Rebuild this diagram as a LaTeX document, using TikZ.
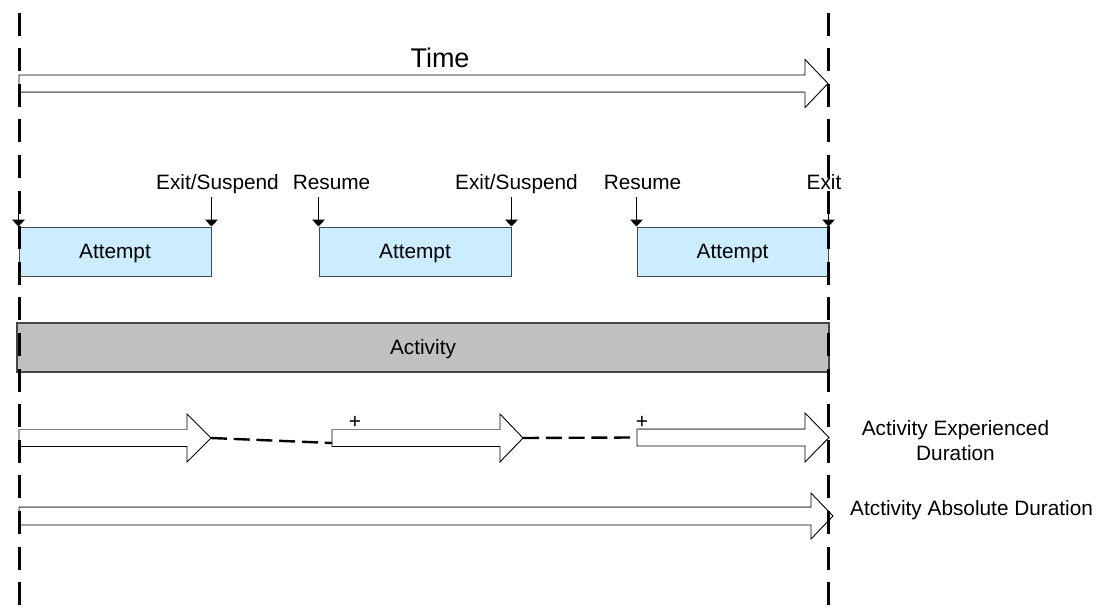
\documentclass[tikz,border=0pt]{standalone}
\usepackage{fontspec}
\setmainfont{Liberation Sans}
\usetikzlibrary{arrows.meta}

\definecolor{attemptfill}{RGB}{204,236,255}
\definecolor{activityfill}{RGB}{192,192,192}
\definecolor{edgegray}{RGB}{128,128,128}
\definecolor{boxedge}{RGB}{70,70,70}

% Hollow block arrow: name, tail x, head-base x, tip x, centre y,
% half body height, half head height, side (+1 bottom / -1 top) of the grey edge
\newcommand{\blockarrow}[8]{%
  \coordinate (#1-tail) at ({#2},{#5});
  \coordinate (#1-tip) at ({#4},{#5});
  \filldraw[fatarrow] ({#2},{#5-#6}) -- ({#3},{#5-#6}) -- ({#3},{#5-#7}) -- ({#4},{#5})
     -- ({#3},{#5+#7}) -- ({#3},{#5+#6}) -- ({#2},{#5+#6}) -- cycle;
  \draw[fatshade] ({#2},{#5+(#8)*#6}) -- ({#3},{#5+(#8)*#6});
}

\begin{document}
\begin{tikzpicture}[x=1pt,y=-1pt,
  lbl/.style={font=\fontsize{20.8pt}{24.5pt}\selectfont, inner sep=0pt},
  attempt/.style={draw=boxedge, line width=1pt, fill=attemptfill, minimum height=49pt,
    inner sep=0pt, text height=14pt, text depth=0pt, font=\fontsize{20.8pt}{24.5pt}\selectfont},
  activity/.style={attempt, fill=activityfill, line width=1.3pt},
  tick/.style={line width=1pt, -{Triangle[width=13pt,length=7pt]}},
  gapline/.style={line width=2.4pt, dash pattern=on 16pt off 6.75pt},
  guide/.style={line width=3pt, dash pattern=on 23pt off 12.6pt, dash phase=23pt},
  fatarrow/.style={fill=white, draw=black, line width=0.9pt, line join=miter},
  fatshade/.style={draw=edgegray, line width=1pt},
  plus/.style={font=\fontsize{21pt}{21pt}\selectfont, inner sep=0pt}]
\useasboundingbox (0,0) rectangle (1099,610);

% time axis
\blockarrow{time}{19}{805}{828}{83.5}{8.5}{24}{1}
\node[lbl, font=\fontsize{27pt}{30pt}\selectfont, anchor=base] (timelbl) at (440,67) {Time};

% attempts
\node[attempt, minimum width=192pt] (att1) at (115,251.5) {Attempt};
\node[attempt, minimum width=192pt] (att2) at (415,251.5) {Attempt};
\node[attempt, minimum width=191pt] (att3) at (732.5,251.5) {Attempt};

% events above the attempts
\node[lbl, anchor=base] (exit1) at (217.5,189) {Exit/Suspend};
\node[lbl, anchor=base] (res1) at (331.5,189) {Resume};
\node[lbl, anchor=base] (exit2) at (516.5,189) {Exit/Suspend};
\node[lbl, anchor=base] (res2) at (642.5,189) {Resume};
\node[lbl, anchor=base] (exit3) at (824,189) {Exit};

\draw[tick] ([yshift=30pt]att1.north west) -- (att1.north west);
\draw[tick] ([yshift=30pt]att1.north east) -- (att1.north east);
\draw[tick] ([yshift=30pt]att2.north west) -- (att2.north west);
\draw[tick] ([yshift=30pt]att2.north east) -- (att2.north east);
\draw[tick] ([yshift=30pt]att3.north west) -- (att3.north west);
\draw[tick] ([yshift=30pt]att3.north east) -- (att3.north east);

% activity
\node[activity, minimum width=812pt] (act) at (423,347.5) {Activity};

% experienced duration
\blockarrow{exp1}{19}{187}{211}{438}{8.5}{24}{-1}
\blockarrow{exp2}{332}{500}{523}{438}{8.5}{24}{-1}
\blockarrow{exp3}{637}{805}{829}{437.5}{8.5}{24.5}{-1}
\draw[gapline] (exp1-tip) -- ([yshift=-5pt]exp2-tail);
\draw[gapline] (exp2-tip) -- ([xshift=-7pt]exp3-tail);
\node[plus] (plus2) at (355,422) {+};
\node[plus] (plus3) at (642,422) {+};
\node[lbl, align=center, anchor=base] (explbl) at (955.5,460) {Activity Experienced\\Duration};

% absolute duration
\blockarrow{abs}{19}{811}{833}{516}{9}{23}{-1}
\node[lbl, anchor=base west] (abslbl) at (850,515) {Atctivity Absolute Duration};

% start and end guides
\coordinate (startTop) at (19,0);
\coordinate (startBot) at (19,610);
\coordinate (endTop) at (828,0);
\coordinate (endBot) at (828,610);
\draw[guide] (startTop) -- (startBot);
\draw[guide] (endTop) -- (endBot);
\end{tikzpicture}
\end{document}
